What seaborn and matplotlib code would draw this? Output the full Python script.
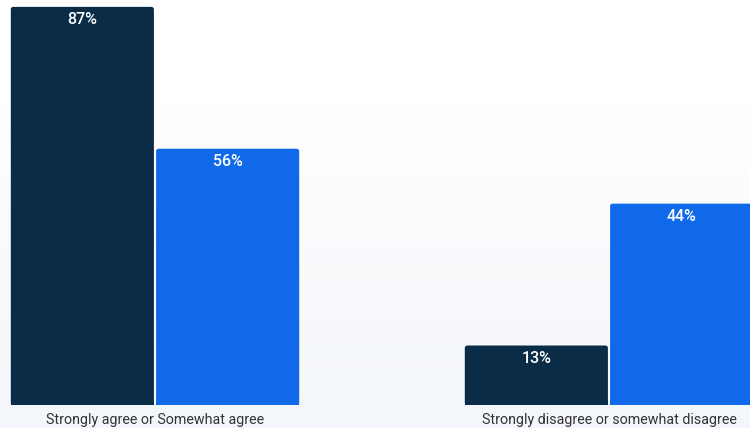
import numpy as np
import pandas as pd
import matplotlib
matplotlib.use("Agg")
import matplotlib.pyplot as plt
import seaborn as sns
from matplotlib.patches import FancyBboxPatch, Rectangle

# Survey responses, two respondent groups per answer
answers = ["Strongly agree or Somewhat agree", "Strongly disagree or somewhat disagree"]
groups = ["Group A", "Group B"]
values_a = [87, 13]
values_b = [56, 44]

colors = {"Group A": "#0a2c46", "Group B": "#0f69e9"}

df = pd.DataFrame({
    "answer": answers * 2,
    "group": [groups[0]] * 2 + [groups[1]] * 2,
    "value": values_a + values_b,
})

sns.set_theme(style="white")
plt.rcParams["font.family"] = ["Roboto", "DejaVu Sans"]

W, H = 750, 428
fig = plt.figure(figsize=(W / 100, H / 100), dpi=100)

# soft vertical background wash: white on top, pale blue toward the bottom
bg = fig.add_axes([0, 0, 1, 1], zorder=-10)
grad = np.concatenate([np.zeros(100), np.linspace(0, 1, 328)])[:, None]
bg_cmap = matplotlib.colors.LinearSegmentedColormap.from_list("wash", ["#ffffff", "#f3f6fb"])
bg.imshow(grad, aspect="auto", cmap=bg_cmap, extent=[0, 1, 0, 1], origin="upper")
bg.set_axis_off()

axes_h_px = 405
ax = fig.add_axes([0, (H - axes_h_px) / H, 1, axes_h_px / H])
ax.patch.set_alpha(0)
sns.barplot(data=df, x="answer", y="value", hue="group", order=answers,
            hue_order=groups, palette=colors, width=0.64, gap=0.015,
            saturation=1, legend=False, ax=ax)

x_per_px = 1 / 454
ax.set_xlim(-155 * x_per_px, (W - 155) * x_per_px)
ymax = 88.5
ax.set_ylim(0, ymax)
y_per_px = ymax / axes_h_px

# round the top corners of each bar (about 2 px radius)
radius_px = 2.5
for bar in list(ax.patches):
    x, y = bar.get_x(), bar.get_y()
    w, h = bar.get_width(), bar.get_height()
    fc = bar.get_facecolor()
    bar.set_visible(False)
    ax.add_patch(FancyBboxPatch((x, y), w, h,
                                boxstyle=f"round,pad=0,rounding_size={radius_px * x_per_px}",
                                mutation_aspect=y_per_px / x_per_px,
                                facecolor=fc, edgecolor="none", zorder=2))
    ax.add_patch(Rectangle((x, y), w, 4 * y_per_px, facecolor=fc,
                           edgecolor="none", zorder=2))

for container in ax.containers:
    ax.bar_label(container, labels=[f"{v:.0f}%" for v in container.datavalues],
                 label_type="edge", padding=-14.5, color="white",
                 fontsize=11.5, fontweight="medium")

ax.set_xlabel("")
ax.set_ylabel("")
ax.set_yticks([])
ax.tick_params(axis="x", length=0, pad=6, labelsize=10.3, labelcolor="#333333")
sns.despine(ax=ax, left=True, bottom=True)

fig.savefig("out.png", dpi=100)
